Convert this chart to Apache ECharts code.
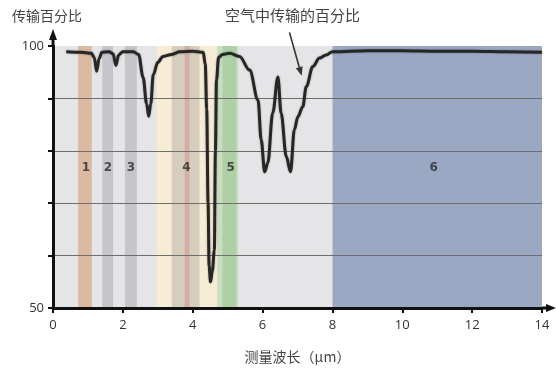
<!DOCTYPE html>
<html>
<head>
<meta charset="utf-8">
<script src="https://cdn.jsdelivr.net/npm/echarts@6/dist/echarts.min.js"></script>
<style>
  html, body { margin: 0; padding: 0; background: #ffffff; }
  #chart { width: 556px; height: 374px; }
</style>
</head>
<body>
<div id="chart"></div>
<script>
// Atmospheric transmission spectrum (wavelength in µm, transmission in %)
const wavelength = [
  0.38, 0.8, 1.1, 1.18, 1.25, 1.32, 1.4, 1.6, 1.72, 1.8, 1.88, 2.0,
  2.3, 2.45, 2.58, 2.68, 2.74, 2.8, 2.87, 3.0, 3.15, 3.4, 3.63, 4.0,
  4.3, 4.36, 4.4, 4.44, 4.47, 4.51, 4.56, 4.62, 4.65, 4.68, 4.74, 4.85,
  5.06, 5.34, 5.63, 5.87, 5.96, 6.06, 6.15, 6.29, 6.44, 6.53, 6.68, 6.8,
  6.91, 7.01, 7.15, 7.25, 7.44, 7.63, 7.82, 8.0, 9, 10, 11, 12, 13, 14
];
const transmission = [
  98.9, 98.8, 98.6, 97.8, 95.2, 97.6, 98.8, 98.9, 98.5, 96.3, 98.3, 98.9,
  98.9, 98.4, 94.0, 89.0, 86.6, 89.0, 94.5, 96.9, 98.0, 98.4, 98.9, 99.0,
  98.8, 96.5, 88.0, 70.0, 58.0, 55.0, 57.0, 61.0, 80.0, 93.5, 97.8, 98.4,
  98.6, 98.0, 95.4, 89.7, 82.1, 76.0, 77.7, 87.2, 94.1, 87.2, 78.9, 76.0,
  84.0, 86.5, 88.4, 92.2, 96.1, 97.7, 98.3, 98.9, 99.1, 99.1, 99.0, 99.0, 98.9, 98.8
];

// Spectral bands (start / end wavelength, µm)
const bandStart = [0, 0.72, 1.41, 2.06, 2.97, 3.4, 3.77, 4.2, 4.7, 4.85, 8];
const bandEnd   = [8, 1.11, 1.72, 2.4, 3.4, 4.2, 3.91, 4.7, 5.3, 5.25, 14];
const bandColor = ['#e5e5e7', '#dcbaa2', '#c4c6cc', '#c6c6ca', '#f7ecd6',
                   '#d6cdbd', '#d3aea6', '#f6ecd6', '#c8dec1', '#afcfa7', '#9ba8c4'];

// Band numbers and where they sit
const bandNames = ['1', '2', '3', '4', '5', '6'];
const bandNameX = [0.94, 1.57, 2.23, 3.82, 5.09, 10.9];
const bandNameY = [76.7, 76.7, 76.7, 76.7, 76.7, 76.7];

const xTicks = [0, 2, 4, 6, 8, 10, 12, 14];
const yLabels = [50, 100];

// Annotation: text anchor, arrow tail and arrow head in data units
const noteText = '空气中传输的百分比';
const noteAt = [6.86, 105.9];
const arrowFrom = [6.77, 102.6];
const arrowTo = [7.12, 94.3];

const cjk = '"Noto Sans CJK SC", "Noto Sans", sans-serif';
const num = '"Open Sans", "Noto Sans", sans-serif';

const chart = echarts.init(document.getElementById('chart'));

chart.setOption({
  animation: false,
  backgroundColor: '#ffffff',
  title: {
    text: '传输百分比',
    left: 7, top: 4,
    textStyle: { fontFamily: cjk, fontSize: 14, fontWeight: 'normal', color: '#444' }
  },
  grid: { left: 53, right: 14, top: 46, bottom: 66 },
  xAxis: {
    type: 'value', min: 0, max: 14, interval: 2, z: 5,
    name: '测量波长（μm）', nameLocation: 'middle', nameGap: 42,
    nameTextStyle: { fontFamily: cjk, fontSize: 14, color: '#444' },
    axisLine: { show: true, onZero: false, lineStyle: { color: '#111', width: 3 } },
    axisTick: { show: true, length: 5, lineStyle: { color: '#111', width: 2 } },
    axisLabel: {
      color: '#333', fontFamily: num, fontSize: 13, margin: 11,
      formatter: v => (xTicks.indexOf(v) >= 0 ? String(v) : '')
    },
    splitLine: { show: false }
  },
  yAxis: {
    type: 'value', min: 50, max: 100, interval: 10, z: 5,
    axisLine: { show: true, onZero: false, lineStyle: { color: '#111', width: 3 } },
    axisTick: { show: true, length: 5, lineStyle: { color: '#111', width: 2 } },
    axisLabel: {
      color: '#333', fontFamily: num, fontSize: 13, margin: 9,
      formatter: v => (yLabels.indexOf(v) >= 0 ? String(v) : ''),
      padding: [4, 0, 0, 0]
    },
    splitLine: {
      show: true, showMinLine: false, showMaxLine: false,
      lineStyle: { color: '#6e6e6e', width: 1 }
    }
  },
  series: [
    {
      // coloured wavelength bands behind everything
      type: 'line', data: [], z: 0, silent: true,
      markArea: {
        silent: true,
        data: bandStart.map((s, i) => [
          { xAxis: s, itemStyle: { color: bandColor[i], opacity: 1 } },
          { xAxis: bandEnd[i] }
        ])
      }
    },
    {
      type: 'line', z: 6,
      data: wavelength.map((w, i) => [w, transmission[i]]),
      smooth: 0.35, smoothMonotone: 'x',
      symbol: 'none',
      lineStyle: { color: '#262626', width: 3, shadowColor: 'rgba(0,0,0,0.35)', shadowBlur: 2 }
    },
    {
      type: 'scatter', z: 7, symbolSize: 0, silent: true,
      data: bandNames.map((n, i) => ({ value: [bandNameX[i], bandNameY[i]], name: n })),
      label: {
        show: true, position: 'inside', formatter: p => p.name,
        fontFamily: '"DejaVu Sans", sans-serif', fontSize: 12, fontWeight: 'bold', color: '#2a2a2a'
      }
    }
  ]
});

// Axis arrowheads and the callout, placed from data coordinates
function px(p) { return chart.convertToPixel({ gridIndex: 0 }, p); }
const origin = px([0, 50]);
const yTop = px([0, 100]);
const xEnd = px([14, 50]);
const from = px(arrowFrom);
const to = px(arrowTo);
const note = px(noteAt);
const ang = Math.atan2(to[1] - from[1], to[0] - from[0]);
const headLen = 9, headHalf = 3.5;
const back = [to[0] - headLen * Math.cos(ang), to[1] - headLen * Math.sin(ang)];
const nx = -Math.sin(ang), ny = Math.cos(ang);

chart.setOption({
  graphic: [
    { type: 'line', z: 10, shape: { x1: origin[0], y1: yTop[1], x2: origin[0], y2: yTop[1] - 8 },
      style: { stroke: '#111', lineWidth: 3 } },
    { type: 'polygon', z: 10, shape: { points: [[origin[0], yTop[1] - 17], [origin[0] - 4, yTop[1] - 6], [origin[0] + 4, yTop[1] - 6]] },
      style: { fill: '#111' } },
    { type: 'line', z: 10, shape: { x1: xEnd[0], y1: xEnd[1], x2: xEnd[0] + 6, y2: xEnd[1] },
      style: { stroke: '#111', lineWidth: 3 } },
    { type: 'polygon', z: 10, shape: { points: [[xEnd[0] + 14, xEnd[1]], [xEnd[0] + 4, xEnd[1] - 4], [xEnd[0] + 4, xEnd[1] + 4]] },
      style: { fill: '#111' } },
    { type: 'line', z: 10, shape: { x1: from[0], y1: from[1], x2: back[0], y2: back[1] },
      style: { stroke: '#333', lineWidth: 1.6 } },
    { type: 'polygon', z: 10, shape: { points: [
        [to[0], to[1]],
        [back[0] + nx * headHalf, back[1] + ny * headHalf],
        [back[0] - nx * headHalf, back[1] - ny * headHalf]
      ] }, style: { fill: '#333' } },
    { type: 'text', z: 10, x: note[0], y: note[1],
      style: { text: noteText, fontFamily: cjk, fontSize: 15, fill: '#444', align: 'center', verticalAlign: 'middle' } }
  ]
});
</script>
</body>
</html>
